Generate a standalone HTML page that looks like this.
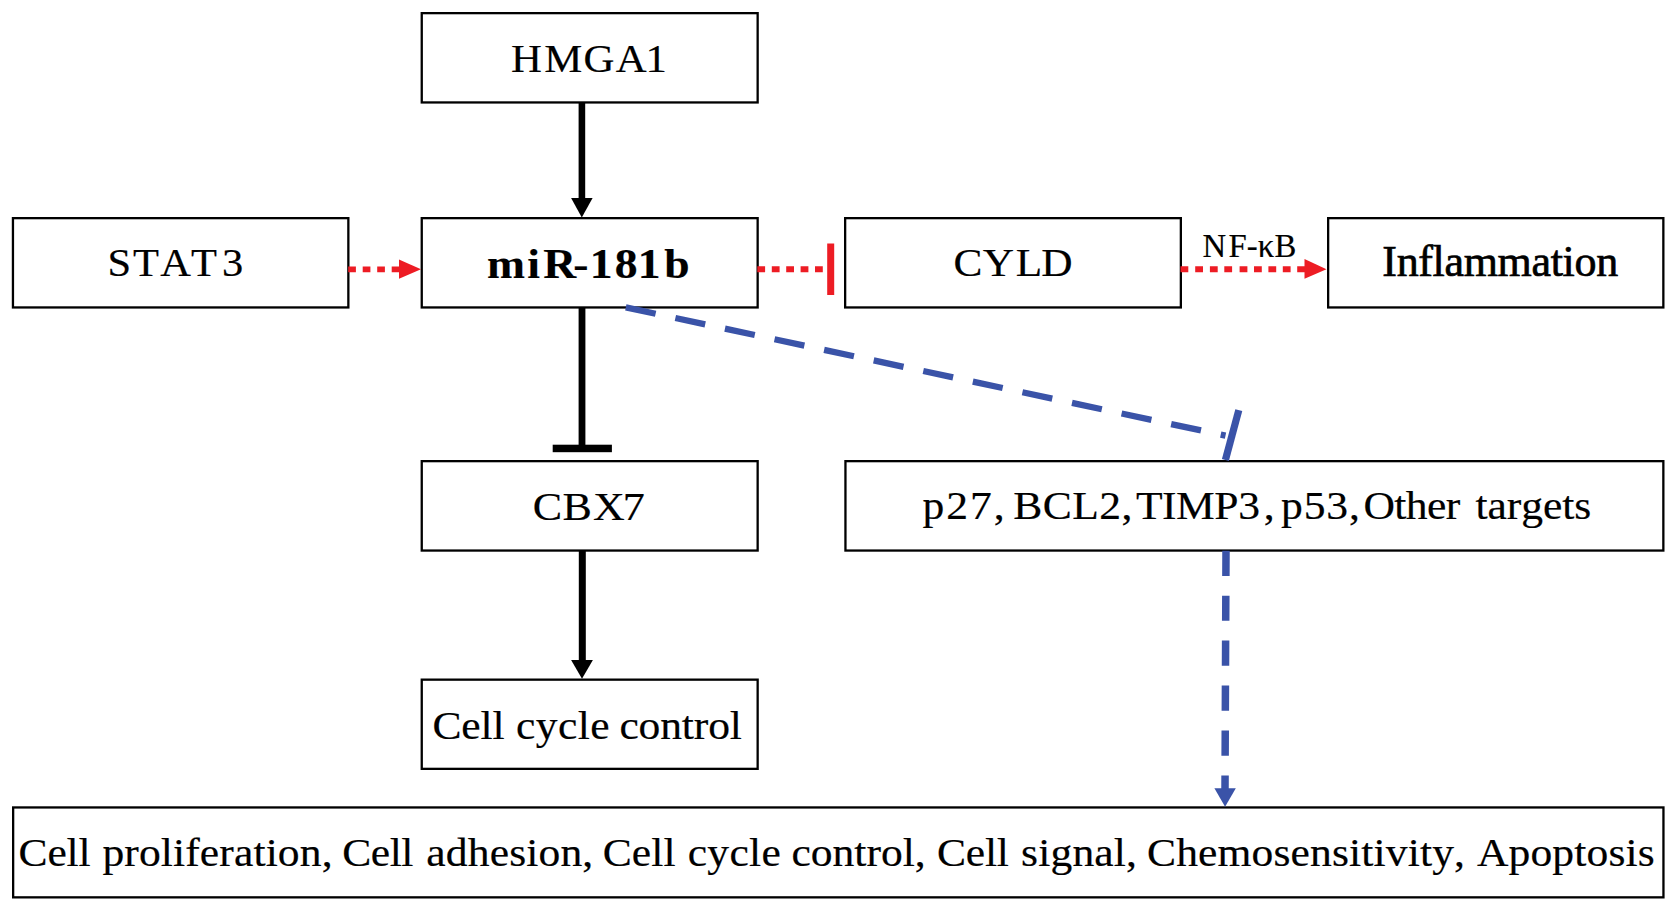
<!DOCTYPE html>
<html><head><meta charset="utf-8">
<style>
html,body{margin:0;padding:0;background:#fff;width:1677px;height:911px;overflow:hidden}
svg{display:block}
text{font-family:"Liberation Serif",serif;fill:#000;stroke:#000;stroke-width:0.2px}
</style></head>
<body>
<svg width="1677" height="911" viewBox="0 0 1677 911">
<g fill="none" stroke="#000" stroke-width="2.3">
<rect x="421.75" y="13.15" width="335.9" height="89.3"/>
<rect x="12.95" y="218.15" width="335.4" height="89.3"/>
<rect x="421.75" y="218.15" width="335.9" height="89.3"/>
<rect x="845.15" y="218.15" width="335.7" height="89.3"/>
<rect x="1328.15" y="218.15" width="335.2" height="89.3"/>
<rect x="421.75" y="461.15" width="335.9" height="89.4"/>
<rect x="845.45" y="461.15" width="817.9" height="89.4"/>
<rect x="421.75" y="679.65" width="335.9" height="89.2"/>
<rect x="13.15" y="807.45" width="1650.3" height="89.9"/>
</g>
<!-- black arrows -->
<g fill="#000">
<rect x="578.6" y="103" width="6.6" height="97"/>
<polygon points="571.1,198 592.6,198 581.8,217.5"/>
<rect x="578.6" y="308" width="6.8" height="140"/>
<rect x="552.7" y="444.7" width="59.2" height="7.5"/>
<rect x="578.8" y="551" width="7" height="112"/>
<polygon points="571.1,660 592.9,660 582,678.8"/>
</g>
<!-- red -->
<g fill="#ed1c24">
<path d="M348.2 266.4h7.7v5.8h-7.7zM362.7 266.4h7.7v5.8h-7.7zM377.2 266.4h7.7v5.8h-7.7zM391.7 266.4h8v5.8h-8z"/>
<polygon points="399,259.5 421,269.3 399,278.7"/>
<path d="M757.3 266.2h7.8v6h-7.8zM771.8 266.2h7.8v6h-7.8zM786.2 266.2h7.8v6h-7.8zM800.6 266.2h7.8v6h-7.8zM815 266.2h7.8v6h-7.8z"/>
<rect x="827.2" y="243.5" width="7" height="51.5"/>
<path d="M1180.5 266.2h7.8v6h-7.8zM1195.2 266.2h7.8v6h-7.8zM1209.9 266.2h7.8v6h-7.8zM1224.3 266.2h7.8v6h-7.8zM1239.6 266.2h7.8v6h-7.8zM1254 266.2h7.8v6h-7.8zM1268.4 266.2h7.8v6h-7.8zM1282.8 266.2h7.8v6h-7.8zM1297.2 266.2h8v6h-8z"/>
<polygon points="1304.5,259.1 1326.5,269.3 1304.5,278.7"/>
</g>
<!-- blue -->
<g stroke="#3a53a8" fill="#3a53a8">
<line x1="625.8" y1="307.4" x2="1225.5" y2="435.7" stroke-width="6.3" stroke-dasharray="30.5 20.2"/>
<line x1="1238.8" y1="410.1" x2="1225.4" y2="460" stroke-width="7.2"/>
<line x1="1226" y1="550.7" x2="1225" y2="790" stroke-width="7.5" stroke-dasharray="25.2 19.75"/>
<polygon stroke="none" points="1214.4,788.3 1235.8,788.3 1225.1,806.8"/>
</g>
<!-- text -->
<text transform="scale(1.0859,1)" x="470.55 501.21 537.29 567.16 594.47" y="71.9" font-size="39.4">HMGA1</text>
<text transform="scale(1.0620,1)" x="101.19 125.36 150.93 179.88 209.01" y="276.2" font-size="40">STAT3</text>
<text transform="scale(1.0732,1)" x="453.85 491.33 506.17 534.13 549.43 572.76 594.34 618.92" y="277.8" font-size="42.5" font-weight="bold">miR-181b</text>
<text transform="scale(1.0946,1)" x="871.04 897.89 927.89 951.19" y="275.9" font-size="39.6">CYLD</text>
<text transform="scale(0.9691,1)" x="1240.96 1267.69 1286.39 1297.84 1315.05" y="257.1" font-size="33.8">NF-κB</text>
<text transform="scale(1.1123,1)" x="478.99 505.73 533.06 559.82" y="520.3" font-size="39.6">CBX7</text>
<text transform="scale(1.0000,1)" x="1382.31 1396.63 1418.30 1432.62 1444.52 1463.72 1497.61 1531.51 1550.71 1562.60 1574.50 1596.17" y="275.7" font-size="44" style="stroke-width:0.7px">Inflammation</text>
<text transform="scale(1.1000,1)" x="838.73 860.26 881.79 903.32 921.13 947.93 974.74 999.31 1019.50 1032.65 1056.41 1069.18 1103.96 1125.57 1148.76 1164.54 1185.14 1205.73 1226.32 1239.56 1267.58 1278.02 1297.25 1314.25 1341.34 1352.28 1369.79 1382.92 1402.66 1420.17 1431.11" y="519.3" font-size="39.6">p27,BCL2,TIMP3,p53,Othertargets</text>
<text transform="scale(1.1000,1)" x="393.10 419.38 436.83 447.70 469.13 487.11 507.32 525.30 536.71 563.13 580.56 600.22 619.87 630.73 643.77 663.43" y="738.8" font-size="39.6">Cellcyclecontrol</text>
<text transform="scale(1.1000,1)" x="16.92 43.14 60.53 71.34 93.09 113.00 126.29 146.20 157.31 168.42 181.71 199.40 212.69 230.38 241.49 252.60 272.50 292.41 311.19 337.14 354.25 364.79 387.61 405.31 425.24 445.17 462.88 478.42 489.55 509.48 529.41 547.92 574.41 592.07 603.15 625.13 643.00 663.09 680.96 692.25 719.58 737.14 756.91 776.69 787.67 800.84 820.61 831.59 851.83 878.05 895.44 906.25 928.28 943.83 954.97 974.90 994.84 1012.55 1023.69 1042.74 1069.27 1089.19 1106.89 1137.81 1157.73 1173.26 1190.96 1210.88 1226.41 1237.54 1248.66 1259.78 1279.70 1290.82 1301.95 1321.87 1342.70 1371.42 1391.33 1411.25 1431.16 1442.28 1462.20 1477.72 1488.84" y="866.1" font-size="39.6">Cellproliferation,Celladhesion,Cellcyclecontrol,Cellsignal,Chemosensitivity,Apoptosis</text>
</svg>
</body></html>
